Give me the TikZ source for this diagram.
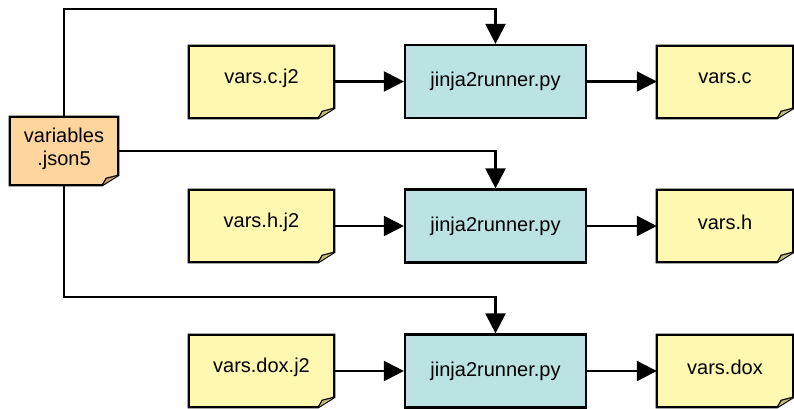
\documentclass[tikz,border=0pt]{standalone}
\usepackage{fontspec}
\setmainfont{Liberation Sans}
\usetikzlibrary{arrows.meta,backgrounds}
\definecolor{noteyellow}{HTML}{FFF8B0}
\definecolor{foldyellow}{HTML}{C8C07A}
\definecolor{runcyan}{HTML}{BCE3E4}
\definecolor{varorange}{HTML}{FFD59E}
\definecolor{foldorange}{HTML}{C8A070}
\tikzset{
  lbl/.style={font=\fontsize{20}{23}\selectfont, align=center, inner sep=0pt},
  notebox/.style={lbl, rectangle, minimum width=145pt, minimum height=72pt},
  outbox/.style={lbl, rectangle, minimum width=136pt, minimum height=72pt},
  runbox/.style={lbl, rectangle, draw=black, line width=2.2pt, fill=runcyan, minimum width=181pt, minimum height=73pt},
  varbox/.style={lbl, rectangle, minimum width=108pt, minimum height=68pt},
  arr/.style={line width=2.2pt, -{Triangle[length=20pt,width=20pt]}},
  conn/.style={line width=2.2pt}
}
% #1 node, #2 fill, #3 fold colour, #4 downward offset (pt, number) of the shape relative to the text
\newcommand\notepath[4]{%
  \begin{pgfonlayer}{background}
  \draw[line width=2.2pt, fill=#2, line join=miter]
    ([yshift=-#4pt]#1.north west) -- ([yshift=-#4pt]#1.north east) -- ([yshift={(10-#4)*1pt}]#1.south east)
    -- ([xshift=-16pt,yshift=-#4pt]#1.south east) -- ([yshift=-#4pt]#1.south west) -- cycle;
  \fill[#3] ([xshift=-16pt,yshift=-#4pt]#1.south east) -- ([xshift=-12pt,yshift={(7-#4)*1pt}]#1.south east)
    -- ([yshift={(10-#4)*1pt}]#1.south east) -- cycle;
  \draw[line width=1.2pt] ([xshift=-16pt,yshift=-#4pt]#1.south east) -- ([xshift=-12pt,yshift={(7-#4)*1pt}]#1.south east)
    -- ([yshift={(10-#4)*1pt}]#1.south east);
  \end{pgfonlayer}}
\begin{document}
\begin{tikzpicture}[x=1pt,y=-1pt]
\useasboundingbox (0,0) rectangle (794,409);
% left sources
\node[notebox] (s1) at (261.5,78) {vars.c.j2};
\node[notebox] (s2) at (261.5,222) {vars.h.j2};
\node[notebox] (s3) at (261.5,367) {vars.dox.j2};
% runners
\node[runbox] (r1) at (495.5,81.5) {jinja2runner.py};
\node[runbox] (r2) at (495.5,226) {jinja2runner.py};
\node[runbox] (r3) at (495.5,371) {jinja2runner.py};
% outputs
\node[outbox] (o1) at (725,78) {vars.c};
\node[outbox] (o2) at (725,222) {vars.h};
\node[outbox] (o3) at (725,367) {vars.dox};
% variables
\node[varbox] (v) at (64,149) {variables\\.json5};
\notepath{s1}{noteyellow}{foldyellow}{4}
\notepath{s2}{noteyellow}{foldyellow}{4}
\notepath{s3}{noteyellow}{foldyellow}{4}
\notepath{o1}{noteyellow}{foldyellow}{4}
\notepath{o2}{noteyellow}{foldyellow}{4}
\notepath{o3}{noteyellow}{foldyellow}{4}
\notepath{v}{varorange}{foldorange}{2}
\coordinate (top) at (0,9);
\coordinate (bot) at (0,297);
% connectors
\draw[arr] (s1.east |- r1) -- (r1);
\draw[arr] (s2.east |- r2) -- (r2);
\draw[arr] (s3.east |- r3) -- (r3);
\draw[arr] (r1) -- (o1.west |- r1);
\draw[arr] (r2) -- (o2.west |- r2);
\draw[arr] (r3) -- (o3.west |- r3);
\draw[arr, line join=miter] ([yshift=-2pt]v.north) -- (v.north |- top) -| (r1.north);
\draw[arr, line join=miter] (v.east |- 0,151) -| (r2.north);
\draw[arr, line join=miter] ([yshift=-2pt]v.south) -- (v.south |- bot) -| (r3.north);
\end{tikzpicture}
\end{document}
